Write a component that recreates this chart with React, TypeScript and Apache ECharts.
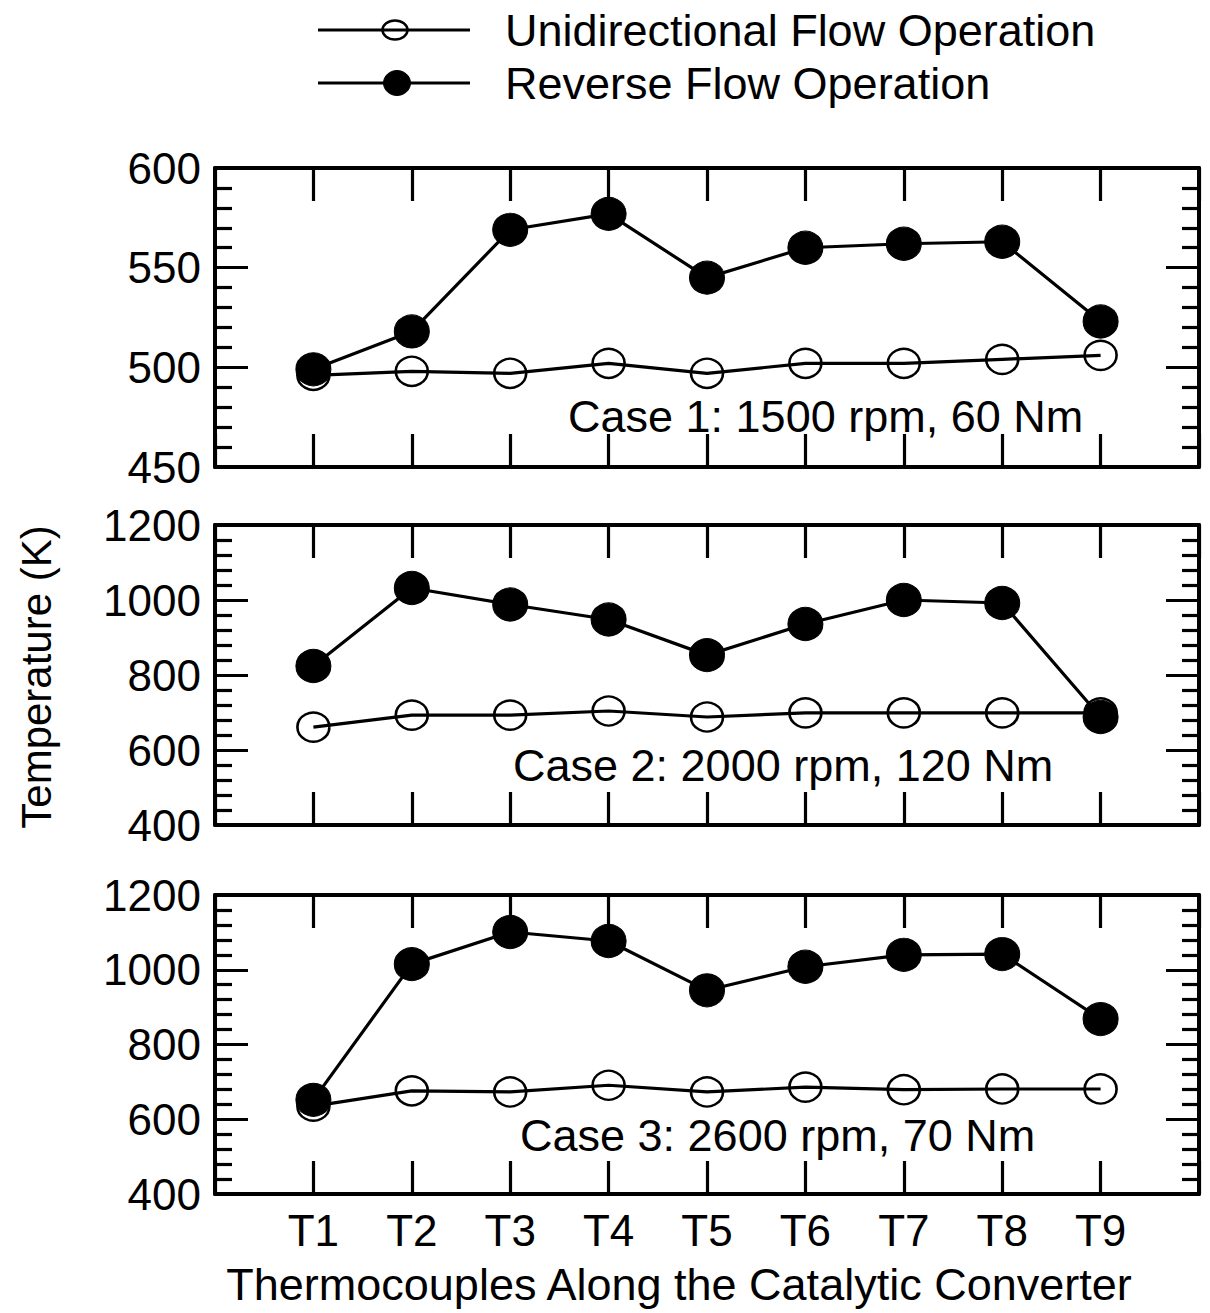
import React, { useEffect, useRef } from "react";
import * as echarts from "echarts";

// Thermocouple stations along the converter (plotted at x = 1..9)
const sensors = ["T1", "T2", "T3", "T4", "T5", "T6", "T7", "T8", "T9"];

// Case 1: 1500 rpm, 60 Nm
const case1Uni = [496, 498, 497, 502, 497, 502, 502, 504, 506];
const case1Rev = [499, 518, 569, 577, 545, 560, 562, 563, 523];

// Case 2: 2000 rpm, 120 Nm
const case2Uni = [661, 693, 693, 704, 688, 699, 699, 699, 699];
const case2Rev = [824, 1032, 988, 948, 853, 936, 1000, 992, 688];

// Case 3: 2600 rpm, 70 Nm
const case3Uni = [635, 676, 673, 691, 673, 686, 679, 681, 681];
const case3Rev = [652, 1015, 1101, 1077, 945, 1008, 1040, 1042, 868];

const caseLabels = [
  "Case 1: 1500 rpm, 60 Nm",
  "Case 2: 2000 rpm, 120 Nm",
  "Case 3: 2600 rpm, 70 Nm",
];
const yRanges = [
  { min: 450, max: 600, interval: 50 },
  { min: 400, max: 1200, interval: 200 },
  { min: 400, max: 1200, interval: 200 },
];
const legendNames = ["Unidirectional Flow Operation", "Reverse Flow Operation"];
const xTitle = "Thermocouples Along the Catalytic Converter";
const yTitle = "Temperature (K)";

const FONT = '"Liberation Sans", Arial, Helvetica, sans-serif';
const BLACK = "#000";

const toPoints = (vals: number[]) => vals.map((v, i) => [i + 1, v]);

export default function App() {
  const ref = useRef<HTMLDivElement>(null);

  useEffect(() => {
    if (!ref.current) return;
    const chart = echarts.init(ref.current, undefined, { renderer: "svg" });

    const grids = [
      { left: 215, top: 168, width: 984, height: 299 },
      { left: 215, top: 525, width: 984, height: 300 },
      { left: 215, top: 895, width: 984, height: 299 },
    ];

    const tickStyle = { color: BLACK, width: 3.2 };
    const axisLineStyle = { color: BLACK, width: 4 };

    const xAxes: any[] = [];
    const yAxes: any[] = [];
    grids.forEach((_, gi) => {
      ["bottom", "top"].forEach((pos) => {
        xAxes.push({
          type: "value",
          gridIndex: gi,
          position: pos,
          min: 0,
          max: 10,
          interval: 1,
          axisLine: { show: true, onZero: false, lineStyle: axisLineStyle },
          axisTick: { show: true, inside: true, length: 33, lineStyle: tickStyle },
          axisLabel: {
            show: pos === "bottom" && gi === 2,
            margin: 14,
            fontSize: 44,
            fontFamily: FONT,
            color: BLACK,
            formatter: (v: number) => (v >= 1 && v <= 9 ? sensors[v - 1] : ""),
          },
          splitLine: { show: false },
        });
      });
      ["left", "right"].forEach((pos) => {
        yAxes.push({
          type: "value",
          gridIndex: gi,
          position: pos,
          min: yRanges[gi].min,
          max: yRanges[gi].max,
          interval: yRanges[gi].interval,
          axisLine: { show: true, onZero: false, lineStyle: axisLineStyle },
          axisTick: { show: true, inside: true, length: 33, lineStyle: tickStyle },
          minorTick: { show: true, splitNumber: 5, length: 17, lineStyle: tickStyle },
          axisLabel: {
            show: pos === "left",
            margin: 14,
            fontSize: 44,
            fontFamily: FONT,
            color: BLACK,
            formatter: (v: number) => String(v),
          },
          splitLine: { show: false },
          minorSplitLine: { show: false },
        });
      });
    });

    const uniSets = [case1Uni, case2Uni, case3Uni];
    const revSets = [case1Rev, case2Rev, case3Rev];
    const series: any[] = [];
    grids.forEach((_, gi) => {
      series.push({
        type: "line",
        name: legendNames[0],
        xAxisIndex: gi * 2,
        yAxisIndex: gi * 2,
        data: toPoints(uniSets[gi]),
        symbol: "circle",
        symbolSize: [32, 29],
        showAllSymbol: true,
        lineStyle: { color: BLACK, width: 3.2 },
        itemStyle: { color: "rgba(255,255,255,0)", borderColor: BLACK, borderWidth: 2.5 },
        z: 2,
      });
      series.push({
        type: "line",
        name: legendNames[1],
        xAxisIndex: gi * 2,
        yAxisIndex: gi * 2,
        data: toPoints(revSets[gi]),
        symbol: "circle",
        symbolSize: [35, 33],
        showAllSymbol: true,
        lineStyle: { color: BLACK, width: 3.2 },
        itemStyle: { color: BLACK, borderColor: BLACK, borderWidth: 1 },
        z: 3,
      });
    });

    const textStyle = (text: string, size = 45) => ({
      text,
      fill: BLACK,
      font: `${size}px ${FONT}`,
    });

    const graphic: any[] = [
      // legend row 1: open marker
      { type: "line", shape: { x1: 318, y1: 30, x2: 470, y2: 30 }, style: { stroke: BLACK, lineWidth: 3.2 } },
      { type: "ellipse", shape: { cx: 395, cy: 30, rx: 12.5, ry: 9.5 }, style: { fill: "rgba(255,255,255,0)", stroke: BLACK, lineWidth: 2.5 } },
      { type: "text", x: 505, y: 30, style: { ...textStyle(legendNames[0]), textAlign: "left", textVerticalAlign: "middle" } },
      // legend row 2: filled marker
      { type: "line", shape: { x1: 318, y1: 83, x2: 470, y2: 83 }, style: { stroke: BLACK, lineWidth: 3.2 } },
      { type: "ellipse", shape: { cx: 397, cy: 83, rx: 13.5, ry: 12.5 }, style: { fill: BLACK, stroke: BLACK, lineWidth: 1 } },
      { type: "text", x: 505, y: 83, style: { ...textStyle(legendNames[1]), textAlign: "left", textVerticalAlign: "middle" } },
      // case annotations
      { type: "text", x: 568, y: 416, style: { ...textStyle(caseLabels[0]), textAlign: "left", textVerticalAlign: "middle" } },
      { type: "text", x: 513, y: 765, style: { ...textStyle(caseLabels[1]), textAlign: "left", textVerticalAlign: "middle" } },
      { type: "text", x: 520, y: 1135, style: { ...textStyle(caseLabels[2]), textAlign: "left", textVerticalAlign: "middle" } },
      // axis titles
      { type: "text", x: 679, y: 1284, style: { ...textStyle(xTitle), textAlign: "center", textVerticalAlign: "middle" } },
      {
        type: "text",
        x: 36,
        y: 677,
        rotation: Math.PI / 2,
        style: { ...textStyle(yTitle, 42), textAlign: "center", textVerticalAlign: "middle" },
      },
    ];

    chart.setOption({
      animation: false,
      backgroundColor: "#fff",
      grid: grids,
      xAxis: xAxes,
      yAxis: yAxes,
      series,
      graphic,
    });

    return () => chart.dispose();
  }, []);

  return (
    <div
      ref={ref}
      style={{ position: "absolute", left: 0, top: 0, width: 1210, height: 1313, background: "#fff" }}
    />
  );
}
